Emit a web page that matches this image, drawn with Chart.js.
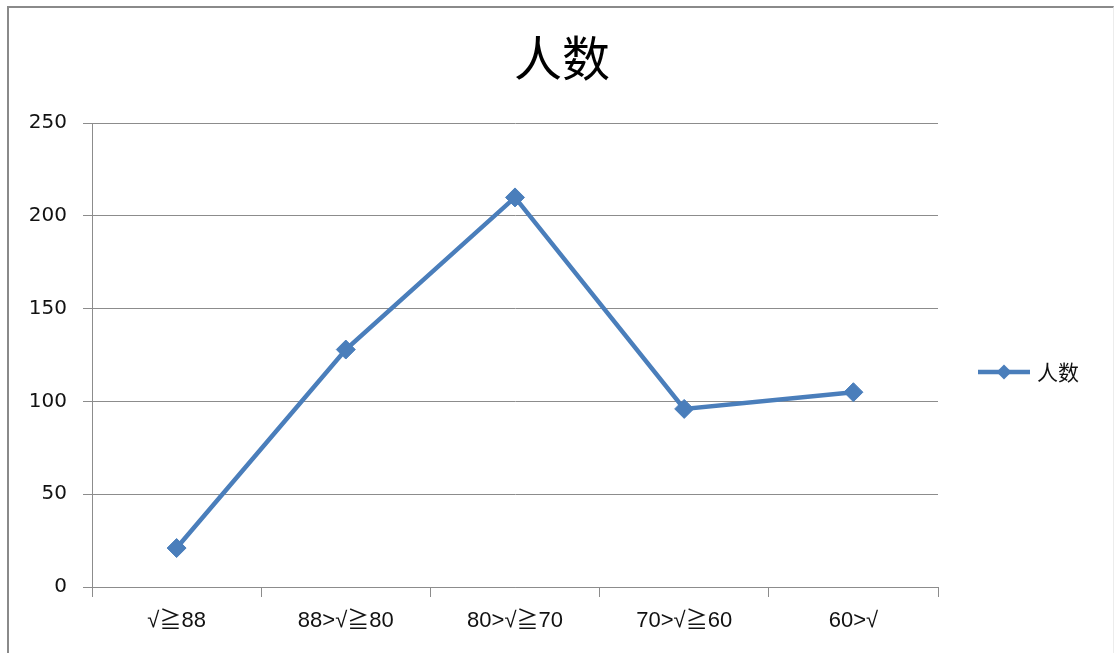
<!DOCTYPE html>
<html>
<head>
<meta charset="utf-8">
<script src="https://cdn.jsdelivr.net/npm/chart.js@4.4.1/dist/chart.umd.min.js"></script>
<style>
  html, body { margin: 0; padding: 0; background: #fff; }
  #wrap { position: relative; width: 1115px; height: 653px; overflow: hidden; background: #fff; }
  #chart { position: absolute; left: 0; top: 0; }
  #frame {
    position: absolute; left: 7px; top: 6px; width: 1104px; height: 700px;
    border-left: 2px solid #8a8a8a; border-top: 2px solid #8a8a8a; border-right: 1px solid #ececec;
    pointer-events: none;
  }
</style>
</head>
<body>
<div id="wrap">
  <canvas id="chart" width="1115" height="653"></canvas>
  <div id="frame"></div>
</div>
<script>
// Score bands and head counts
const categories = ['√≧88', '88>√≧80', '80>√≧70', '70>√≧60', '60>√'];
const counts = [21, 128, 210, 96, 105];
const seriesName = '人数';
const chartTitle = '人数';
const yTicks = [0, 50, 100, 150, 200, 250];

const blue = '#4a7ebb';
const gridGray = '#8c8c8c';
const cjk = '"Noto Sans CJK SC", "Noto Sans", sans-serif';
const narrow = '"Liberation Sans Narrow", "Liberation Sans", "Noto Sans CJK SC", sans-serif';

// Legend on the right: line sample with a diamond marker, then the series name
const sideLegend = {
  id: 'sideLegend',
  afterDraw(chart) {
    const ctx = chart.ctx;
    const ds = chart.data.datasets[0];
    const x0 = chart.chartArea.right + 40;
    const x1 = x0 + 52;
    const y = 372;
    ctx.save();
    ctx.strokeStyle = ds.borderColor;
    ctx.lineWidth = ds.borderWidth;
    ctx.beginPath();
    ctx.moveTo(x0, y);
    ctx.lineTo(x1, y);
    ctx.stroke();
    const cx = (x0 + x1) / 2, r = 7.5;
    ctx.fillStyle = ds.pointBackgroundColor;
    ctx.beginPath();
    ctx.moveTo(cx - r, y);
    ctx.lineTo(cx, y - r);
    ctx.lineTo(cx + r, y);
    ctx.lineTo(cx, y + r);
    ctx.closePath();
    ctx.fill();
    ctx.fillStyle = '#111';
    ctx.font = '21px ' + cjk;
    ctx.textBaseline = 'middle';
    ctx.textAlign = 'left';
    ctx.fillText(ds.label, x1 + 7, y);
    ctx.restore();
  }
};

new Chart(document.getElementById('chart'), {
  type: 'line',
  data: {
    labels: categories,
    datasets: [{
      label: seriesName,
      data: counts,
      borderColor: blue,
      borderWidth: 4.5,
      tension: 0,
      pointStyle: 'rectRot',
      pointRadius: 9.5,
      pointBackgroundColor: blue,
      pointBorderColor: blue,
      pointBorderWidth: 1
    }]
  },
  options: {
    responsive: false,
    animation: false,
    devicePixelRatio: 1,
    layout: { padding: { left: 9, right: 0, top: 0, bottom: 0 } },
    plugins: {
      legend: { display: false },
      tooltip: { enabled: false },
      title: {
        display: true,
        text: chartTitle,
        color: '#000',
        font: { family: cjk, size: 48, weight: 'normal', lineHeight: 1.15 },
        padding: { top: 30, bottom: 38 }
      }
    },
    scales: {
      x: {
        type: 'category',
        offset: true,
        grid: {
          offset: true,
          drawOnChartArea: false,
          drawTicks: true,
          tickLength: 10,
          color: gridGray
        },
        border: { display: true, color: gridGray, width: 1 },
        ticks: {
          color: '#111',
          font: { family: narrow, size: 22 },
          padding: 11,
          maxRotation: 0,
          autoSkip: false
        },
        afterFit(scale) { scale.height = 66; }
      },
      y: {
        min: 0,
        max: 250,
        afterBuildTicks(scale) { scale.ticks = yTicks.map(v => ({ value: v })); },
        grid: {
          color: gridGray,
          lineWidth: 1,
          drawTicks: true,
          tickLength: 9
        },
        border: { display: true, color: gridGray, width: 1 },
        ticks: {
          color: '#111',
          font: { family: '"DejaVu Sans", sans-serif', size: 20 },
          padding: 16
        },
        afterFit(scale) { scale.width = 83; }
      },
      // empty right-hand band that holds the legend
      side: {
        type: 'linear',
        position: 'right',
        display: true,
        grid: { display: false, drawTicks: false },
        border: { display: false },
        ticks: { display: false },
        afterFit(scale) { scale.width = 177; }
      }
    }
  },
  plugins: [sideLegend]
});
</script>
</body>
</html>
